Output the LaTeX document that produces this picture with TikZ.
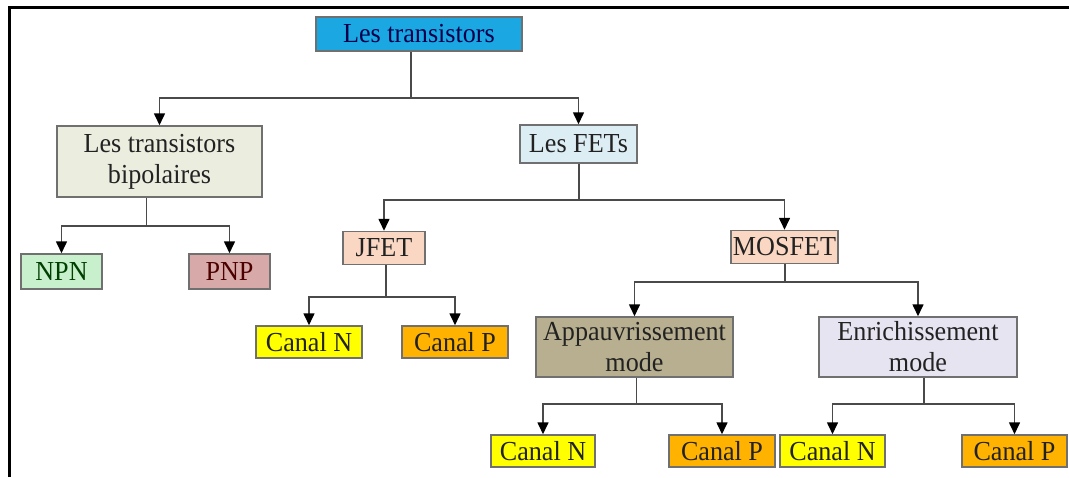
\documentclass[tikz,border=0pt]{standalone}
\usepackage{fontspec}
\setmainfont{Liberation Serif}[FakeStretch=0.95]
\usetikzlibrary{arrows.meta,positioning}
\definecolor{cTop}{HTML}{1AA7E2}
\definecolor{cBip}{HTML}{EBEEDF}
\definecolor{cFet}{HTML}{DCEDF3}
\definecolor{cNpn}{HTML}{C8F0CC}
\definecolor{cPnp}{HTML}{D8A9A9}
\definecolor{cPeach}{HTML}{F9D7C3}
\definecolor{cYel}{HTML}{FFFF00}
\definecolor{cOra}{HTML}{FFB300}
\definecolor{cApp}{HTML}{B7AF8F}
\definecolor{cEnr}{HTML}{E6E4F0}
\definecolor{cBorder}{HTML}{707070}
\definecolor{cLine}{HTML}{4A4A4A}
\definecolor{cTxt}{HTML}{222222}
\tikzset{
  box/.style={draw=cBorder, line width=1.5pt, inner sep=0pt, align=center,
    text=cTxt, font=\fontsize{27.5}{31}\selectfont},
  stem/.style={draw=cLine, line width=1.6pt},
  arr/.style={draw=cLine, line width=1.6pt, -{Triangle[width=11pt,length=12pt,color=black]}},
}
\begin{document}
\begin{tikzpicture}[x=1pt,y=-1pt]
\useasboundingbox (0,0) rectangle (1069,477);
\fill[white] (0,0) rectangle (1069,477);
% frame
\draw[line width=3pt, black] (9,477) -- (9,7) -- (1069,7);

% nodes
\node[box, fill=cTop, text=blue!30!black, minimum width=206, minimum height=34] (top) at (419,34) {Les transistors};
\node[box, fill=cBip, minimum width=205, minimum height=71] (bip) at (159.5,161.5) {Les transistors\\bipolaires};
\node[box, fill=cFet, minimum width=117, minimum height=38] (fets) at (578.5,144) {Les FETs};
\node[box, fill=cNpn, text=green!25!black, minimum width=81, minimum height=35] (npn) at (61.5,271.5) {NPN};
\node[box, fill=cPnp, text=red!30!black, minimum width=81, minimum height=35] (pnp) at (229.5,271.5) {PNP};
\node[box, fill=cPeach, minimum width=82, minimum height=33] (jfet) at (384,248) {JFET};
\node[box, fill=cPeach, minimum width=107, minimum height=33] (mosfet) at (784.5,247) {MOSFET};
\node[box, fill=cYel, minimum width=106, minimum height=32] (cn1) at (309,342) {Canal N};
\node[box, fill=cOra, minimum width=106, minimum height=32] (cp1) at (455,342) {Canal P};
\node[box, fill=cApp, minimum width=197, minimum height=60] (app) at (634.5,347) {Appauvrissement\\mode};
\node[box, fill=cEnr, minimum width=198, minimum height=60] (enr) at (918,347) {Enrichissement\\mode};
\node[box, fill=cYel, minimum width=104, minimum height=32] (cn2) at (543,451) {Canal N};
\node[box, fill=cOra, minimum width=106, minimum height=32] (cp2) at (722,451) {Canal P};
\node[box, fill=cYel, minimum width=105, minimum height=32] (cn3) at (832.5,451) {Canal N};
\node[box, fill=cOra, minimum width=105, minimum height=32] (cp3) at (1014.5,451) {Canal P};

% connectors
\draw[stem] ([xshift=-8pt]top.south) -- ++(0,46) coordinate (j1);
\draw[arr] (j1) -| (bip.north);
\draw[arr] (j1) -| (fets.north);

\draw[stem] ([xshift=-13pt]bip.south) -- ++(0,28) coordinate (j2);
\draw[arr] (j2) -| (npn.north);
\draw[arr] (j2) -| (pnp.north);

\draw[stem] ([xshift=0.5pt]fets.south) -- ++(0,36) coordinate (j3);
\draw[arr] (j3) -| (jfet.north);
\draw[arr] (j3) -| (mosfet.north);

\draw[stem] ([xshift=2pt]jfet.south) -- ++(0,32) coordinate (j4);
\draw[arr] (j4) -| (cn1.north);
\draw[arr] (j4) -| (cp1.north);

\draw[stem] ([xshift=0.5pt]mosfet.south) -- ++(0,18) coordinate (j5);
\draw[arr] (j5) -| (app.north);
\draw[arr] (j5) -| (enr.north);

\draw[stem] ([xshift=2pt]app.south) -- ++(0,26) coordinate (j6);
\draw[arr] (j6) -| (cn2.north);
\draw[arr] (j6) -| (cp2.north);

\draw[stem] ([xshift=6pt]enr.south) -- ++(0,26) coordinate (j7);
\draw[arr] (j7) -| (cn3.north);
\draw[arr] (j7) -| (cp3.north);
\end{tikzpicture}
\end{document}
